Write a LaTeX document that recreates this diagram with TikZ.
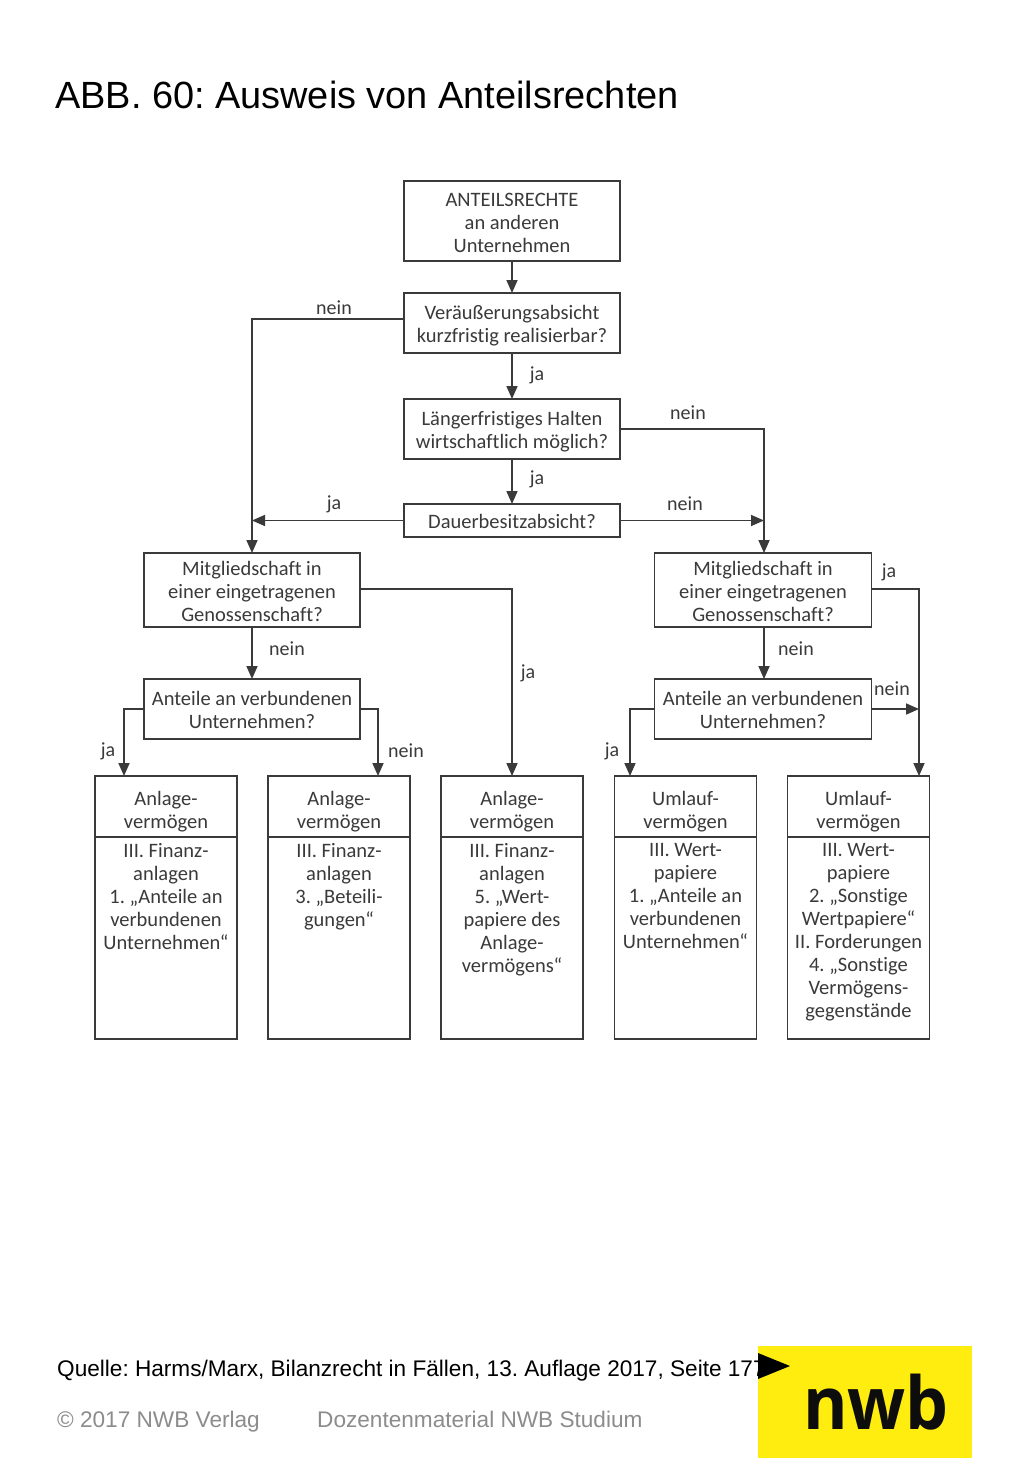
\documentclass[tikz,border=0pt]{standalone}
\usepackage{fontspec}
\setmainfont{Liberation Sans}
\newfontfamily\flowfont[Ligatures=NoCommon]{Carlito}
\newfontfamily\logofont[FakeStretch=0.93]{Open Sans}
\usetikzlibrary{arrows.meta,positioning}
\definecolor{ink}{HTML}{3A3A3A}
\definecolor{nwbyellow}{HTML}{FFED0F}
\definecolor{greytext}{HTML}{8C8C8C}
\frenchspacing
\newcommand{\bodytext}[1]{\parbox[t][202pt][t]{142pt}{\centering\vspace{6pt}#1}}
% pushes a centred text block down by #1 pt
\newcommand{\dn}[1]{\rule{0pt}{\dimexpr 14.5pt+2\dimexpr #1pt\relax\relax}}
\tikzset{
  flowbox/.style={draw=ink,line width=1.8pt,inner sep=0pt,outer sep=0pt,align=center,text=ink,
    font=\flowfont\fontsize{20.5}{23}\selectfont},
  wide/.style={flowbox,minimum width=216pt},
  narrow/.style={flowbox,minimum width=142pt},
  lbl/.style={text=ink,inner sep=0pt,font=\flowfont\fontsize{20}{23}\selectfont},
  conn/.style={draw=ink,line width=1.7pt,-{Triangle[length=13pt,width=11pt]}}
}
\begin{document}
\begin{tikzpicture}[x=1pt,y=-1pt]
\useasboundingbox[fill=white] (0,0) rectangle (1024,1479);

\node[anchor=base west,inner sep=0pt,font=\fontsize{37.9}{44}\selectfont] (title) at (55,109) {ABB. 60: Ausweis von Anteilsrechten};

% upper chain
\node[wide,minimum height=80pt] (top) at (512,221) {\dn{1.5}ANTEILSRECHTE\\an anderen\\Unternehmen};
\node[wide,minimum height=60pt] (veraeuss) at (512,323) {\dn{3}Veräußerungsabsicht\\kurzfristig realisierbar?};
\node[wide,minimum height=60pt] (halten) at (512,429) {\dn{3}Längerfristiges Halten\\wirtschaftlich möglich?};
\node[wide,minimum height=33pt] (dauer) at (512,520.5) {\dn{1}Dauerbesitzabsicht?};

% question rows
\node[wide,minimum height=74pt] (mleft) at (252,590) {\dn{1.5}Mitgliedschaft in\\einer eingetragenen\\Genossenschaft?};
\node[wide,minimum width=217pt,minimum height=74pt] (mright) at (763,590) {\dn{1.5}Mitgliedschaft in\\einer eingetragenen\\Genossenschaft?};
\node[wide,minimum height=60pt] (aleft) at (252,709) {\dn{1}Anteile an verbundenen\\Unternehmen?};
\node[wide,minimum width=217pt,minimum height=60pt] (aright) at (763,709) {\dn{1}Anteile an verbundenen\\Unternehmen?};

% result boxes
\node[narrow,minimum height=61pt] (h1) at (166,806.5) {\dn{5}Anlage-\\vermögen};
\node[narrow,minimum height=61pt] (h2) at (339,806.5) {\dn{5}Anlage-\\vermögen};
\node[narrow,minimum height=61pt] (h3) at (512,806.5) {\dn{5}Anlage-\\vermögen};
\node[narrow,minimum height=61pt] (h4) at (685.5,806.5) {\dn{5}Umlauf-\\vermögen};
\node[narrow,minimum height=61pt] (h5) at (858.5,806.5) {\dn{5}Umlauf-\\vermögen};
\node[narrow,anchor=north] (b1) at (h1.south) {\bodytext{III. Finanz-\\anlagen\\1. „Anteile an\\verbundenen\\Unternehmen“}};
\node[narrow,anchor=north] (b2) at (h2.south) {\bodytext{III. Finanz-\\anlagen\\3. „Beteili-\\gungen“}};
\node[narrow,anchor=north] (b3) at (h3.south) {\bodytext{III. Finanz-\\anlagen\\5. „Wert-\\papiere des\\Anlage-\\vermögens“}};
\node[narrow,anchor=north] (b4) at (h4.south) {\bodytext{III. Wert-\\papiere\\1. „Anteile an\\verbundenen\\Unternehmen“}};
\node[narrow,anchor=north] (b5) at (h5.south) {\bodytext{III. Wert-\\papiere\\2. „Sonstige\\Wertpapiere“\\II. Forderungen\\4. „Sonstige\\Vermögens-\\gegenstände}};

% connector bend points
\coordinate (veraeussOut) at ([yshift=4pt]veraeuss.west);
\coordinate (mleftOut) at ([yshift=1pt]mleft.east);
\coordinate (mrightOut) at ([yshift=1pt]mright.east);
\coordinate (mrTop) at ([xshift=1pt]mright.north);
\coordinate (mrBottom) at ([xshift=1pt]mright.south);
\coordinate (arTop) at ([xshift=1pt]aright.north);
\coordinate (t1) at ([xshift=-42pt]h1.north);
\coordinate (t2) at ([xshift=39pt]h2.north);
\coordinate (t4) at ([xshift=-55.5pt]h4.north);
\coordinate (t5) at ([xshift=60.5pt]h5.north);
\coordinate (rightRail) at (t5 |- aright.east);

% connectors
\draw[conn] (top) -- (veraeuss);
\draw[conn] (veraeuss) -- (halten);
\draw[conn] (halten) -- (dauer);
\draw[conn] (veraeussOut) -| (mleft.north);
\draw[conn] (halten.east) -| (mrTop);
\draw[conn] (dauer.west) -- (mleft.north |- dauer.west);
\draw[conn] (dauer.east) -- (mrTop |- dauer.east);
\draw[conn] (mleft) -- (aleft);
\draw[conn] (mrBottom) -- (arTop);
\draw[conn] (aleft.west) -| (t1);
\draw[conn] (aleft.east) -| (t2);
\draw[conn] (mleftOut) -| (h3.north);
\draw[conn] (aright.west) -| (t4);
\draw[conn] (aright.east) -- (rightRail);
\draw[conn] (mrightOut) -| (t5);

% connector labels
\node[lbl] (l1) at (334,308) {nein};
\node[lbl] (l2) at (537,375.5) {ja};
\node[lbl] (l3) at (688,413) {nein};
\node[lbl] (l4) at (537,479.5) {ja};
\node[lbl] (l5) at (334,504.5) {ja};
\node[lbl] (l6) at (685,504) {nein};
\node[lbl] (l7) at (287,649) {nein};
\node[lbl] (l8) at (108,751.5) {ja};
\node[lbl] (l9) at (406,751) {nein};
\node[lbl] (l10) at (528,673.5) {ja};
\node[lbl] (l11) at (889,572.5) {ja};
\node[lbl] (l12) at (796,649) {nein};
\node[lbl] (l13) at (892,689) {nein};
\node[lbl] (l14) at (612,751.5) {ja};

% footer
\node[anchor=base west,inner sep=0pt,font=\fontsize{22.6}{26}\selectfont] (quelle) at (57,1376) {Quelle: Harms/Marx, Bilanzrecht in Fällen, 13. Auflage 2017, Seite 177};
\node[anchor=base west,inner sep=0pt,text=greytext,font=\fontsize{22.6}{26}\selectfont] (copy) at (57,1427) {© 2017 NWB Verlag};
\node[anchor=base west,inner sep=0pt,text=greytext,font=\fontsize{22.6}{26}\selectfont] (dozent) at (317,1427) {Dozentenmaterial NWB Studium};

% logo
\fill[nwbyellow] (758,1346) rectangle (972,1458);
\fill[black] (758,1353) -- (790,1366) -- (758,1379) -- cycle;
\node[anchor=base,inner sep=0pt,text=black!95,font=\logofont\bfseries\fontsize{73}{80}\selectfont] (logo) at (876,1429) {nwb};
\end{tikzpicture}
\end{document}
